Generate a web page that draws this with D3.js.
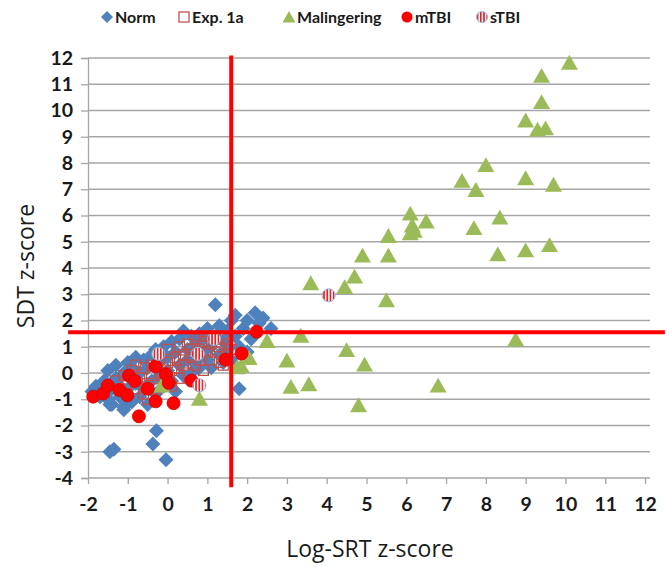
<!DOCTYPE html>
<html><head><meta charset="utf-8">
<script src="https://cdn.jsdelivr.net/npm/d3@7"></script>
<style>
body{margin:0;background:#fff;}
svg{display:block;font-family:Lato,"Open Sans",sans-serif;}
</style></head>
<body><svg id="c" width="669" height="567"></svg>
<script>
// ---- data ----
const xTicks = [-2,-1,0,1,2,3,4,5,6,7,8,9,10,11,12];
const yTicks = [-4,-3,-2,-1,0,1,2,3,4,5,6,7,8,9,10,11,12];
const seriesNames = ["Norm","Exp. 1a","Malingering","mTBI","sTBI"];
const norm = [
 [-1.9,-0.7],[-1.8,-0.5],[-1.7,-0.9],[-1.6,-0.3],[-1.5,-1.0],[-1.5,0.1],[-1.4,-0.6],[-1.4,-1.2],
 [-1.3,-0.2],[-1.3,0.3],[-1.2,-0.9],[-1.2,-0.5],[-1.1,0.0],[-1.1,-1.3],[-1.0,0.4],[-1.0,-0.6],
 [-0.9,-1.1],[-0.9,0.2],[-0.8,-0.4],[-0.8,0.6],[-0.7,0.0],[-0.7,-0.9],[-0.6,0.5],[-0.6,-0.6],
 [-0.5,0.2],[-0.5,-1.2],[-0.4,0.7],[-0.4,-0.3],[-0.3,0.9],[-0.3,-0.8],[-0.2,0.4],[-0.2,-0.1],
 [-0.1,1.0],[-0.1,-0.5],[0.0,0.6],[0.0,0.1],[0.1,1.2],[0.1,-0.3],[0.2,0.8],[0.2,-0.7],
 [0.3,1.3],[0.3,0.3],[0.4,1.6],[0.4,-0.1],[0.5,0.9],[0.5,0.5],[0.6,1.4],[0.6,0.0],
 [0.7,1.1],[0.7,0.4],[0.8,1.5],[0.8,0.2],[0.9,0.8],[0.9,1.3],[1.0,0.5],[1.0,1.7],
 [1.1,1.0],[1.1,0.2],[1.2,2.6],[1.2,1.4],[1.3,0.7],[1.3,1.8],[1.4,1.2],[1.4,0.4],
 [1.5,1.6],[1.5,0.9],[1.6,2.0],[1.6,0.5],[1.7,1.4],[1.7,2.2],[1.8,1.0],[1.8,-0.6],
 [1.9,1.7],[2.0,0.8],[2.1,1.3],[2.2,2.3],[2.3,1.9],[2.4,2.1],[2.6,1.7],[2.0,2.0],
 [-1.45,-3.0],[-1.35,-2.9],[-0.28,-2.2],[-0.37,-2.7],[-0.04,-3.3],[-1.1,-1.4],[-1.45,-1.2]
];
const exp1a = [
 [-1.3,-0.3],[-1.2,-0.6],[-1.1,-0.1],[-1.0,-0.4],[-0.9,0.1],[-0.8,-0.6],[-0.7,-0.2],[-0.6,0.2],
 [-0.6,-0.8],[-0.5,-0.4],[-0.4,0.3],[-0.4,-0.1],[-0.3,-0.6],[-0.2,0.5],[-0.2,0.0],[-0.1,-0.3],
 [0.0,0.4],[0.0,0.9],[0.1,0.1],[0.1,-0.5],[0.2,0.6],[0.2,0.2],[0.3,1.0],[0.3,-0.2],
 [0.4,0.7],[0.4,0.3],[0.5,1.1],[0.5,0.0],[0.6,0.6],[0.6,0.9],[0.7,1.3],[0.7,0.3],
 [0.8,0.9],[0.8,0.5],[0.9,1.2],[0.9,0.1],[1.0,0.8],[1.0,1.4],[1.1,0.5],[1.1,1.1],
 [1.2,1.3],[1.2,0.8],[1.3,1.0],[1.3,0.4],[1.4,1.3],[1.5,0.7],[1.5,1.1],[1.6,0.9],
 [-0.8,0.3],[0.3,0.5],[-0.5,-1.0],[0.8,1.4],[1.4,0.3]
];
const malingering = [
 [10.1,11.8],[9.4,11.3],[9.4,10.3],[9.0,9.6],[9.3,9.25],[9.5,9.3],[8.0,7.9],[7.4,7.3],
 [7.75,6.95],[9.0,7.4],[9.7,7.15],[6.1,6.05],[6.5,5.75],[6.15,5.6],[8.35,5.9],[7.7,5.5],
 [5.55,5.2],[6.1,5.3],[6.2,5.4],[8.3,4.5],[9.0,4.65],[9.6,4.85],[4.9,4.45],[5.55,4.45],
 [4.7,3.65],[4.45,3.25],[3.6,3.4],[5.5,2.75],[3.35,1.4],[2.5,1.2],[8.75,1.25],[4.5,0.85],
 [4.95,0.3],[3.0,0.45],[3.1,-0.55],[3.55,-0.45],[6.8,-0.5],[4.8,-1.25],[1.85,0.25],
 [-0.15,-0.5],[0.8,-1.0],[1.75,0.2],[2.05,0.55]
];
const mTBI = [
 [-1.87,-0.9],[-1.62,-0.78],[-1.5,-0.48],[-1.21,-0.65],[-1.01,-0.85],[-0.97,-0.1],[-0.82,-0.3],
 [-0.72,-1.65],[-0.5,-0.6],[-0.3,0.25],[-0.3,-1.08],[-0.04,-0.05],[0.03,-0.38],[0.15,-1.15],
 [0.6,-0.29],[1.46,0.51],[1.86,0.74],[2.24,1.57]
];
const sTBI = [[-0.23,0.73],[0.76,0.73],[0.8,-0.47],[1.17,1.3],[4.05,2.96]];
const cutX = [1.6];      // vertical cut-off (Log-SRT)
const cutY = [1.55];     // horizontal cut-off (SDT)

// ---- layout ----
const svg = d3.select("#c");
const x = d3.scaleLinear().domain([-2,12]).range([88,645]);
const y = d3.scaleLinear().domain([-4,12]).range([478,58]);
const grid = "#a6a6a6";

// gridlines
svg.append("g").selectAll("line").data(yTicks.filter(d=>d>-4)).join("line")
  .attr("x1",x(-2)).attr("x2",x(12)+5).attr("y1",d=>y(d)).attr("y2",d=>y(d))
  .attr("stroke",grid).attr("stroke-width",1.3);

// axes
const xa = svg.append("g").attr("transform",`translate(0,${y(-4)})`)
  .call(d3.axisBottom(x).tickValues(xTicks).tickSize(6).tickPadding(13).tickFormat(d3.format("d")));
const ya = svg.append("g").attr("transform",`translate(${x(-2)},0)`)
  .call(d3.axisLeft(y).tickValues(yTicks).tickSize(7).tickPadding(8).tickFormat(d3.format("d")));
[xa,ya].forEach(a=>{
  a.select(".domain").attr("stroke",grid).attr("stroke-width",1.3);
  a.selectAll(".tick line").attr("stroke",grid).attr("stroke-width",1.3);
  a.selectAll("text").attr("font-size",19.5).attr("font-weight","bold").attr("fill","#1a1a1a")
   .attr("font-family","Lato, sans-serif").text(d=>d<0?"-"+Math.abs(d):d);
});
xa.select(".domain").attr("d",`M${x(-2)},0H${x(12)+5}`);

// pattern for sTBI
const defs = svg.append("defs");
const pat = defs.append("pattern").attr("id","stripes").attr("patternUnits","userSpaceOnUse")
  .attr("width",3.2).attr("height",4);
pat.append("rect").attr("width",3.2).attr("height",4).attr("fill","#fff");
pat.append("rect").attr("width",1.7).attr("height",4).attr("fill","#e0262b");

const diamond = 7.5, tri = 8.5, sq = 5, rc = 6.5;
const colNorm="#4f81bd", colExp="#c0504d", colMal="#9bbb59", colM="#ff0000";

function drawDiamond(g,data){
  g.selectAll(null).data(data).join("path")
   .attr("d",d=>`M${x(d[0])},${y(d[1])-diamond}l${diamond},${diamond}l${-diamond},${diamond}l${-diamond},${-diamond}z`)
   .attr("fill",colNorm);
}
function drawSquare(g,data){
  g.selectAll(null).data(data).join("rect")
   .attr("x",d=>x(d[0])-sq).attr("y",d=>y(d[1])-sq).attr("width",2*sq).attr("height",2*sq)
   .attr("fill","none").attr("stroke",colExp).attr("stroke-width",1.3);
}
function drawTri(g,data){
  g.selectAll(null).data(data).join("path")
   .attr("d",d=>`M${x(d[0])},${y(d[1])-tri}l${tri},${tri*1.75}h${-2*tri}z`)
   .attr("fill",colMal);
}
function drawCircle(g,data){
  g.selectAll(null).data(data).join("circle")
   .attr("cx",d=>x(d[0])).attr("cy",d=>y(d[1])).attr("r",rc)
   .attr("fill",colM).attr("stroke","#d40000").attr("stroke-width",0.8);
}
function drawStriped(g,data){
  g.selectAll(null).data(data).join("circle")
   .attr("cx",d=>x(d[0])).attr("cy",d=>y(d[1])).attr("r",rc)
   .attr("fill","url(#stripes)").attr("stroke","#95b3d7").attr("stroke-width",1);
}
const pts = svg.append("g");
drawDiamond(pts.append("g"),norm);
drawSquare(pts.append("g"),exp1a);
drawTri(pts.append("g"),malingering);
drawCircle(pts.append("g"),mTBI);
drawStriped(pts.append("g"),sTBI);

// cut-off lines
svg.append("g").selectAll("line").data(cutX).join("line")
  .attr("x1",d=>x(d)).attr("x2",d=>x(d)).attr("y1",y(12.1)).attr("y2",y(-4.35))
  .attr("stroke","#ff0000").attr("stroke-width",4);
svg.append("g").selectAll("line").data(cutY).join("line")
  .attr("y1",d=>y(d)).attr("y2",d=>y(d)).attr("x1",x(-2.5)).attr("x2",x(12.5))
  .attr("stroke","#ff0000").attr("stroke-width",4);

// axis titles
svg.append("text").attr("x",370).attr("y",557).attr("text-anchor","middle")
  .attr("font-family","'Open Sans', sans-serif").attr("font-size",23).attr("fill","#1a1a1a")
  .text("Log-SRT z-score");
svg.append("text").attr("transform","translate(34,266) rotate(-90)").attr("text-anchor","middle")
  .attr("font-family","'Open Sans', sans-serif").attr("font-size",23).attr("fill","#1a1a1a")
  .text("SDT z-score");

// legend
const lg = svg.append("g").attr("font-family","Lato, sans-serif").attr("font-size",16)
  .attr("font-weight","bold").attr("fill","#1a1a1a");
const legX = [107,184,289,407,482];
const ly = 17;
seriesNames.forEach((name,i)=>{
  const cx = legX[i];
  const g = lg.append("g");
  if(i===0) g.append("path").attr("d",`M${cx},${ly-6}l6,6l-6,6l-6,-6z`).attr("fill",colNorm);
  if(i===1) g.append("rect").attr("x",cx-5).attr("y",ly-5).attr("width",10).attr("height",10).attr("fill","#fff").attr("stroke",colExp).attr("stroke-width",1.3);
  if(i===2) g.append("path").attr("d",`M${cx},${ly-6}l6.5,11.5h-13z`).attr("fill",colMal);
  if(i===3) g.append("circle").attr("cx",cx).attr("cy",ly).attr("r",5.5).attr("fill",colM);
  if(i===4) g.append("circle").attr("cx",cx).attr("cy",ly).attr("r",5.5).attr("fill","url(#stripes)").attr("stroke","#95b3d7");
  g.append("text").attr("x",cx+8).attr("y",ly+6).text(name);
});
</script></body></html>
